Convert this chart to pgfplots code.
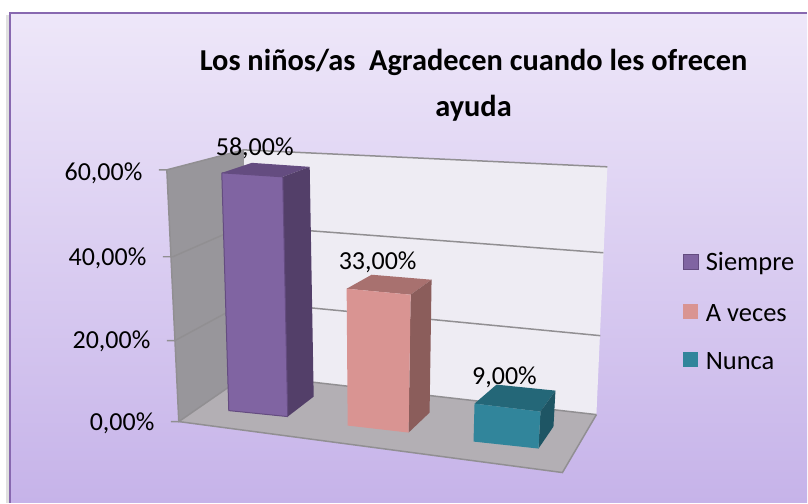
\documentclass[border=0pt]{standalone}
\usepackage{pgfplots}
\usepackage{fontspec}
\setmainfont{Carlito}
\pgfplotsset{compat=1.18}
\pgfplotsset{/pgf/number format/assume math mode=true}
\definecolor{topbg}{RGB}{238,231,249}
\definecolor{botbg}{RGB}{198,179,233}
\definecolor{frameline}{RGB}{136,104,176}
\definecolor{wallgrey}{RGB}{152,150,155}
\definecolor{floorgrey}{RGB}{179,175,180}
\definecolor{backwall}{RGB}{238,236,243}
\definecolor{gridgrey}{RGB}{145,143,146}
\definecolor{purpf}{RGB}{128,100,162}
\definecolor{purpt}{RGB}{100,76,128}
\definecolor{purps}{RGB}{83,63,105}
\definecolor{pinkf}{RGB}{217,148,146}
\definecolor{pinkt}{RGB}{168,113,111}
\definecolor{pinks}{RGB}{139,93,91}
\definecolor{tealf}{RGB}{49,133,155}
\definecolor{tealt}{RGB}{36,103,120}
\definecolor{teals}{RGB}{30,85,100}
\begin{document}
\begin{tikzpicture}
\begin{axis}[
  at={(0,0)}, anchor=south west,
  width=808pt, height=503pt, scale only axis,
  xmin=0, xmax=808, ymin=0, ymax=503, y dir=reverse,
  axis lines=none, clip=false,
]
% page, then chart area with shadow at the left
\addplot[draw=none, fill=white, forget plot] coordinates {(0,0) (808,0) (808,503) (0,503)};
\addplot[draw=none, fill=black!12, forget plot] coordinates {(6,15) (10,15) (10,503) (6,503)};
\addplot[draw=none, top color=topbg, bottom color=botbg, forget plot] coordinates {(10,13) (808,13) (808,503) (10,503)};
\addplot[draw=frameline, line width=1.6pt, forget plot] coordinates {(10,503) (10,13) (808,13)};
% walls and floor
\addplot[fill=backwall, draw=none, forget plot] coordinates {(244,150) (608,167) (597,415) (247,375)};
\addplot[fill=wallgrey, draw=none, forget plot] coordinates {(167,170) (244,150) (247,375) (179,422)};
\addplot[fill=floorgrey, draw=none, forget plot] coordinates {(179,422) (247,375) (597,415) (563,473)};
% gridlines
\addplot[draw=gridgrey, line width=1.5pt, forget plot] coordinates {(159,170) (167,170) (244,150) (608,167)};
\addplot[draw=gridgrey, line width=1.5pt, forget plot] coordinates {(163,257) (173,257) (244,226) (604,253)};
\addplot[draw=gridgrey, line width=1.5pt, forget plot] coordinates {(167,341) (175,341) (247,302) (601,336)};
\addplot[draw=gridgrey, line width=1.5pt, forget plot] coordinates {(171,422) (179,422) (247,375) (597,415)};
\addplot[draw=gridgrey, line width=1.5pt, forget plot] coordinates {(167,170) (179,422) (563,473) (597,415)};
% Siempre
\addplot[fill=purpt, draw=none, forget plot] coordinates {(222,173) (252,163) (310,167) (283,177)};
\addplot[fill=purps, draw=none, forget plot] coordinates {(283,177) (310,167) (314,397) (288,417)};
\addplot[fill=purpf, draw=purpt, line width=1pt, forget plot] coordinates {(222,173) (283,177) (288,417) (229,411) (222,173)};
% A veces
\addplot[fill=pinkt, draw=none, forget plot] coordinates {(347,289) (372,275) (432,280) (411,295)};
\addplot[fill=pinks, draw=none, forget plot] coordinates {(411,295) (432,280) (430,413) (409,433)};
\addplot[fill=pinkf, draw=none, forget plot] coordinates {(347,289) (411,295) (409,433) (348,426)};
% Nunca
\addplot[fill=tealt, draw=none, forget plot] coordinates {(475,404) (497,385) (556,391) (541,412)};
\addplot[fill=teals, draw=none, forget plot] coordinates {(541,412) (556,391) (554,427) (539,449)};
\addplot[fill=tealf, draw=none, forget plot] coordinates {(475,404) (541,412) (539,449) (474,442)};
% value labels, the numbers kept as meta
\addplot[only marks, mark=none, point meta=explicit, forget plot,
  nodes near coords={\pgfmathprintnumber[fixed,fixed zerofill,precision=2,use comma,assume math mode=true]{\pgfplotspointmeta}\%},
  every node near coord/.append style={anchor=center, font=\fontsize{26}{30}\selectfont}]
  coordinates {(255,148) [58] (378,263) [33] (505,378) [9]};
% axis labels
\addplot[only marks, mark=none, point meta=explicit, forget plot,
  nodes near coords={\pgfmathprintnumber[fixed,fixed zerofill,precision=2,use comma,assume math mode=true]{\pgfplotspointmeta}\%},
  every node near coord/.append style={anchor=east, font=\fontsize{26}{30}\selectfont}]
  coordinates {(146,173) [60] (150,259) [40] (154,342) [20] (158,424) [0]};
% legend
\addplot[fill=purpf, draw=purpt, line width=1pt, forget plot] coordinates {(684,255) (699,255) (699,270) (684,270) (684,255)};
\addplot[fill=pinkf, draw=none, forget plot] coordinates {(684,304) (699,304) (699,319) (684,319)};
\addplot[fill=tealf, draw=none, forget plot] coordinates {(684,352) (699,352) (699,367) (684,367)};
\node[anchor=west, font=\fontsize{26.5}{30}\selectfont] at (axis cs:703,264) {Siempre};
\node[anchor=west, font=\fontsize{26.5}{30}\selectfont] at (axis cs:703,313) {A veces};
\node[anchor=west, font=\fontsize{26.5}{30}\selectfont] at (axis cs:703,361) {Nunca};
% title
\node[align=center, font=\fontsize{30.4}{46}\selectfont\bfseries] at (axis cs:474,85) {Los niños/as\ \ Agradecen cuando les ofrecen\\ayuda};
\end{axis}
\end{tikzpicture}
\end{document}
